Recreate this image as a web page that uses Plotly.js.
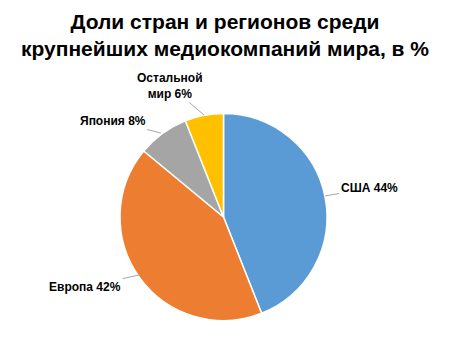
<!DOCTYPE html>
<html><head><meta charset="utf-8">
<script src="https://cdn.plot.ly/plotly-3.0.1.min.js"></script>
<style>html,body{margin:0;padding:0;background:#fff}</style>
</head><body><div id="chart" style="width:450px;height:338px"></div>
<script>
const categories = ['США', 'Европа', 'Япония', 'Остальной мир'];
const labelNames = ['США', 'Европа', 'Япония', 'Остальной<br>мир'];
const values = [44, 42, 8, 6];
const colors = ['#5B9BD5', '#ED7D31', '#A5A5A5', '#FFC000'];

const W = 450, H = 338;
// label anchor layout (pixels): tip on the pie edge and text offset
const labelLayout = [
  {tx: 325, ty: 196, ax: 44, ay: -8},
  {tx: 139, ty: 275, ax: -54, ay: 12},
  {tx: 161, ty: 133, ax: -48, ay: -12},
  {tx: 204, ty: 115, ax: -34, ay: -29}
];

const annotations = categories.map((c, i) => ({
  x: labelLayout[i].tx / W, y: 1 - labelLayout[i].ty / H,
  xref: 'paper', yref: 'paper',
  text: '<b>' + labelNames[i] + ' ' + values[i] + '%</b>',
  showarrow: true, arrowhead: 0, arrowwidth: 1, arrowcolor: '#A6A6A6',
  ax: labelLayout[i].ax, ay: labelLayout[i].ay,
  font: {family: 'Liberation Sans, Arial, sans-serif', size: 12, color: '#000'},
  align: 'center'
}));

const data = [{
  type: 'pie',
  labels: categories,
  values: values,
  sort: false,
  direction: 'clockwise',
  rotation: 0,
  marker: {colors: colors, line: {color: '#FFFFFF', width: 1.5}},
  textinfo: 'none',
  hoverinfo: 'none',
  domain: {x: [120 / W, 327 / W], y: [1 - 321 / H, 1 - 113 / H]}
}];

const layout = {
  width: W, height: H,
  margin: {l: 0, r: 0, t: 0, b: 0},
  showlegend: false,
  paper_bgcolor: '#fff',
  title: {
    text: '<b>Доли стран и регионов среди<br>крупнейших медиокомпаний мира, в %</b>',
    font: {family: 'Liberation Sans, Arial, sans-serif', size: 21, color: '#000'},
    x: 0.5, xanchor: 'center', y: 1 - 29 / H, yanchor: 'middle', yref: 'container'
  },
  annotations: annotations
};

Plotly.newPlot('chart', data, layout, {staticPlot: true});
</script></body></html>
